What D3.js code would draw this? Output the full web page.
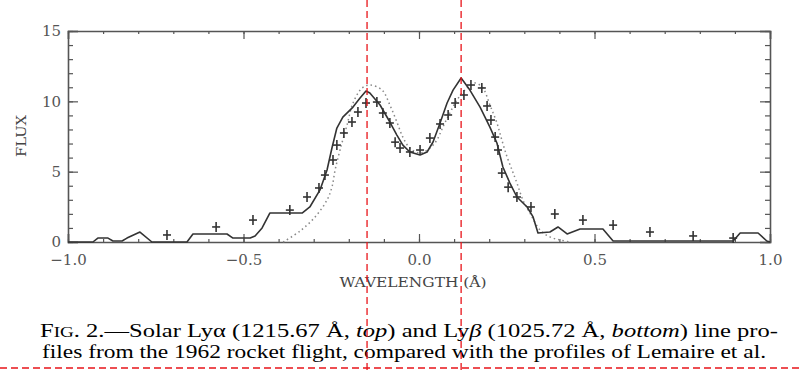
<!DOCTYPE html>
<html><head><meta charset="utf-8">
<script src="https://cdn.jsdelivr.net/npm/d3@7"></script>
<style>body{margin:0;background:#fff}svg{display:block}</style>
</head><body>
<svg id="c" width="800" height="371"></svg>
<script>
// ---- data ----
const solidWl   = [-1.0,-0.929,-0.915,-0.886,-0.872,-0.846,-0.832,-0.795,-0.761,-0.661,-0.644,-0.547,-0.530,-0.481,-0.467,-0.447,-0.425,-0.333,-0.311,-0.282,-0.262,-0.248,-0.234,-0.217,-0.188,-0.168,-0.151,-0.140,-0.111,-0.083,-0.063,-0.046,-0.026,0.003,0.023,0.040,0.060,0.080,0.097,0.120,0.145,0.174,0.202,0.222,0.239,0.259,0.279,0.308,0.325,0.339,0.373,0.396,0.422,0.459,0.524,0.553,0.895,0.915,0.966,0.991,1.0];
const solidFlux = [0,0,0.28,0.28,0.07,0.07,0.28,0.71,0,0,0.57,0.57,0.28,0.28,0.43,1.0,2.06,2.06,2.49,3.70,5.12,6.68,8.10,8.88,9.59,10.23,10.73,10.59,9.74,8.53,7.60,6.89,6.40,6.18,6.40,7.11,8.46,9.88,10.80,11.66,10.80,9.59,8.17,7.04,5.33,4.19,3.20,2.49,1.78,0.64,0.71,1.07,0.57,0.92,0.92,0.07,0.07,0.64,0.64,0.07,0];
const plusWl    = [-0.718,-0.578,-0.473,-0.368,-0.319,-0.285,-0.268,-0.245,-0.234,-0.214,-0.191,-0.174,-0.151,-0.120,-0.103,-0.083,-0.068,-0.054,-0.026,0.003,0.031,0.060,0.083,0.103,0.128,0.148,0.179,0.194,0.205,0.217,0.225,0.236,0.254,0.279,0.319,0.387,0.467,0.553,0.658,0.781,0.895];
const plusFlux  = [0.5,1.07,1.56,2.27,3.2,3.84,4.76,5.83,6.89,7.75,8.53,9.24,9.88,9.95,9.17,8.46,7.1,6.68,6.4,6.54,7.39,8.39,9.03,9.88,10.45,11.16,10.95,9.67,8.67,7.46,6.54,4.9,3.9,3.2,2.49,1.99,1.56,1.2,0.71,0.43,0.28];
const modelWl   = [-0.387,-0.339,-0.296,-0.262,-0.248,-0.239,-0.225,-0.205,-0.188,-0.162,-0.140,-0.105,-0.083,-0.063,-0.046,-0.026,0.003,0.031,0.051,0.068,0.088,0.108,0.137,0.160,0.182,0.202,0.222,0.236,0.251,0.265,0.279,0.296,0.316,0.345,0.373,0.402,0.43];
const modelFlux = [0,0.78,1.78,2.99,3.91,5.12,6.54,8.32,9.88,10.95,11.16,10.8,9.74,8.53,7.46,6.68,6.33,6.68,7.25,8.17,9.17,10.09,10.95,11.3,10.95,9.74,8.46,7.25,6.04,5.12,4.19,2.99,2.06,0.85,0.36,0.14,0];
const xTicks = [-1.0,-0.5,0.0,0.5,1.0];
const yTicks = [0,5,10,15];
const peakMarks = [-0.148, 0.12];

// ---- layout ----
const svg = d3.select('#c');
const L=68,R=770,T=31,B=242;
const x = d3.scaleLinear().domain([-1,1]).range([L,R]);
const y = d3.scaleLinear().domain([0,15]).range([B,T]);
const axCol='#555';

function styleAxis(g){
  g.selectAll('path.domain').attr('stroke',axCol).attr('stroke-width',1.6);
  g.selectAll('.tick line').attr('stroke',axCol).attr('stroke-width',1.2);
  g.selectAll('.tick text').attr('font-family','DejaVu Serif').attr('font-size',15).attr('fill','#555');
}
const xMinor = d3.range(-10,11).map(d=>d/10);
const yMinor = d3.range(0,16);

// bottom
svg.append('g').attr('transform',`translate(0,${B})`).call(d3.axisBottom(x).tickValues(xTicks).tickFormat(d3.format('.1f')).tickSize(-8).tickPadding(12)).call(styleAxis);
svg.append('g').attr('transform',`translate(0,${B})`).call(d3.axisBottom(x).tickValues(xMinor).tickFormat('').tickSize(-3)).call(styleAxis).call(g=>g.select('.domain').remove());
// top
svg.append('g').attr('transform',`translate(0,${T})`).call(d3.axisTop(x).tickValues(xTicks).tickFormat('').tickSize(-8)).call(styleAxis);
svg.append('g').attr('transform',`translate(0,${T})`).call(d3.axisTop(x).tickValues(xMinor).tickFormat('').tickSize(-3)).call(styleAxis).call(g=>g.select('.domain').remove());
// left
svg.append('g').attr('transform',`translate(${L},0)`).call(d3.axisLeft(y).tickValues(yTicks).tickSize(-10).tickPadding(7)).call(styleAxis);
svg.append('g').attr('transform',`translate(${L},0)`).call(d3.axisLeft(y).tickValues(yMinor).tickFormat('').tickSize(-5)).call(styleAxis).call(g=>g.select('.domain').remove());
// right
svg.append('g').attr('transform',`translate(${R},0)`).call(d3.axisRight(y).tickValues(yTicks).tickFormat('').tickSize(-10)).call(styleAxis);
svg.append('g').attr('transform',`translate(${R},0)`).call(d3.axisRight(y).tickValues(yMinor).tickFormat('').tickSize(-5)).call(styleAxis).call(g=>g.select('.domain').remove());

// model dotted
const line = d3.line().x(d=>x(d[0])).y(d=>y(d[1]));
svg.append('path').datum(modelWl.map((w,i)=>[w,modelFlux[i]])).attr('d',line.curve(d3.curveCatmullRom))
  .attr('fill','none').attr('stroke','#888').attr('stroke-width',1.5).attr('stroke-dasharray','1.5,3');
// solid
svg.append('path').datum(solidWl.map((w,i)=>[w,solidFlux[i]])).attr('d',d3.line().x(d=>x(d[0])).y(d=>y(d[1])))
  .attr('fill','none').attr('stroke','#333').attr('stroke-width',1.6).attr('stroke-linejoin','round');
// plus markers
const pg = svg.append('g').attr('stroke','#333').attr('stroke-width',1.6);
plusWl.forEach((w,i)=>{
  const cx=x(w), cy=y(plusFlux[i]);
  pg.append('line').attr('x1',cx-4).attr('x2',cx+4).attr('y1',cy).attr('y2',cy);
  pg.append('line').attr('x1',cx).attr('x2',cx).attr('y1',cy-5).attr('y2',cy+5);
});

// axis titles
svg.append('text').attr('x',413).attr('y',287).attr('text-anchor','middle')
  .attr('font-family','DejaVu Serif').attr('font-size',12.5).attr('fill','#444')
  .attr('textLength',147).attr('lengthAdjust','spacingAndGlyphs').text('WAVELENGTH (Å)');
svg.append('text').attr('transform','translate(26,136) rotate(-90)').attr('text-anchor','middle')
  .attr('font-family','DejaVu Serif').attr('font-size',12.5).attr('fill','#444')
  .attr('textLength',42).attr('lengthAdjust','spacingAndGlyphs').text('FLUX');

// caption
const cap1 = svg.append('text').attr('x',40).attr('y',337).attr('font-family','Liberation Serif').attr('font-size',18).attr('fill','#000')
  .attr('textLength',738).attr('lengthAdjust','spacingAndGlyphs');
cap1.append('tspan').text('F');
cap1.append('tspan').attr('font-size',14).text('IG');
cap1.append('tspan').text('. 2.—Solar Lyα (1215.67 Å, ');
cap1.append('tspan').attr('font-style','italic').text('top');
cap1.append('tspan').text(') and Ly');
cap1.append('tspan').attr('font-style','italic').text('β');
cap1.append('tspan').text(' (1025.72 Å, ');
cap1.append('tspan').attr('font-style','italic').text('bottom');
cap1.append('tspan').text(') line pro-');
svg.append('text').attr('x',42).attr('y',358).attr('font-family','Liberation Serif').attr('font-size',18).attr('fill','#000')
  .attr('textLength',724).attr('lengthAdjust','spacingAndGlyphs')
  .text('files from the 1962 rocket flight, compared with the profiles of Lemaire et al.');

// red dashed guide lines
const rg = svg.append('g').attr('stroke','#e8141a').attr('stroke-width',1.3).attr('stroke-dasharray','7,4').attr('fill','none');
peakMarks.forEach(p=>{ rg.append('line').attr('x1',x(p)).attr('x2',x(p)).attr('y1',0).attr('y2',371); });
rg.append('line').attr('x1',0).attr('x2',800).attr('y1',368).attr('y2',368);
</script>
</body></html>
